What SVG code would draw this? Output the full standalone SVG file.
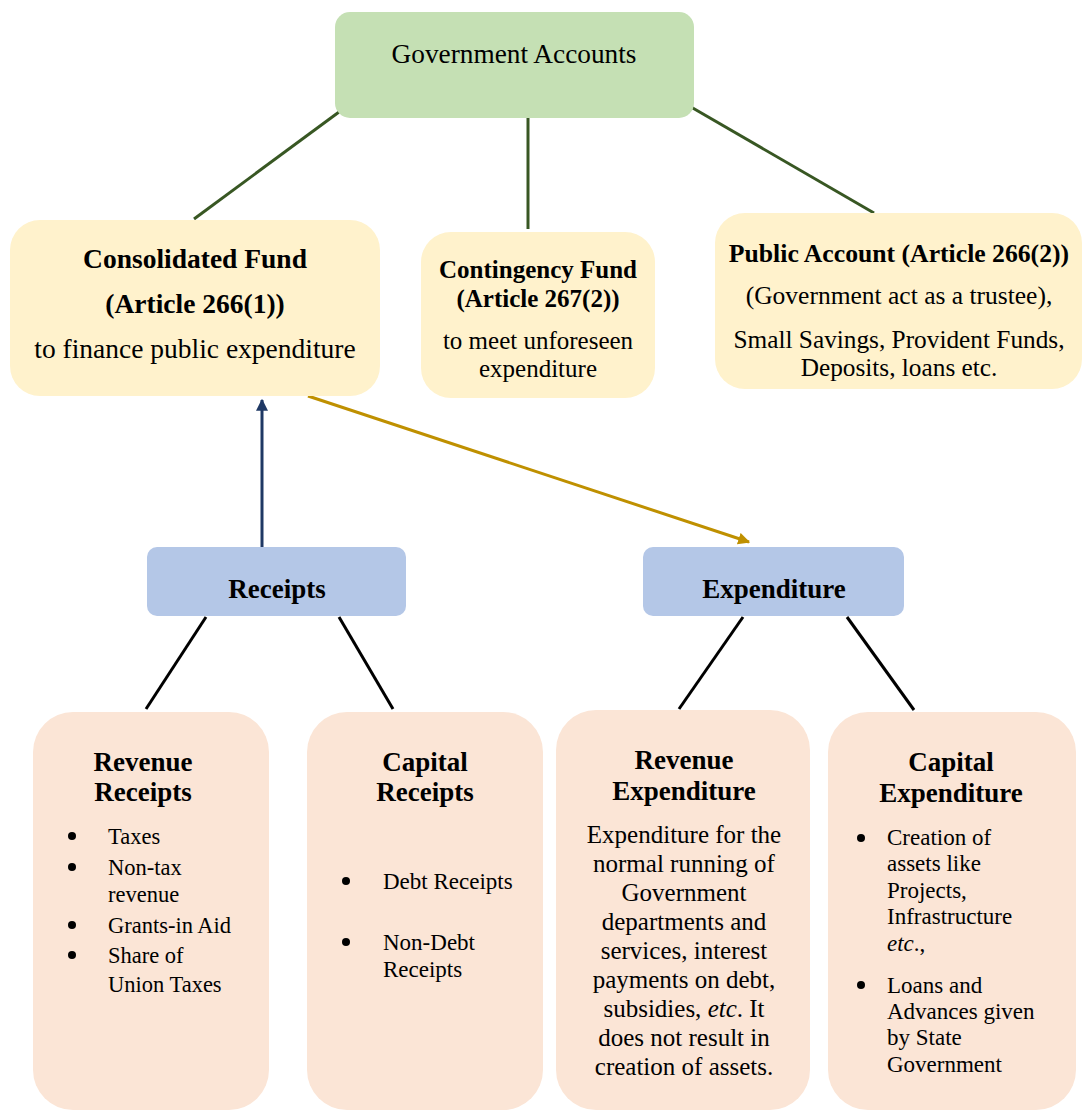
<svg xmlns="http://www.w3.org/2000/svg" width="1083" height="1111" viewBox="0 0 1083 1111">
<style>
text{font-family:"Liberation Serif","Times New Roman",serif;fill:#000}
.c{text-anchor:middle}
.b{font-weight:bold}
.top{fill:#c5e0b4}
.fund{fill:#fff2cc}
.mid{fill:#b4c7e7}
.leaf{fill:#fbe5d6}
.g{stroke:#385723;stroke-width:3;fill:none}
.k{stroke:#000;stroke-width:3;fill:none}
</style>
<defs>
<marker id="ab" viewBox="0 0 10 10" refX="9" refY="5" markerWidth="4" markerHeight="4" orient="auto"><path d="M0,0 L10,5 L0,10 z" fill="#1f3864"/></marker>
<marker id="ay" viewBox="0 0 10 10" refX="9" refY="5" markerWidth="4" markerHeight="4" orient="auto"><path d="M0,0 L10,5 L0,10 z" fill="#bf9000"/></marker>
</defs>
<rect width="1083" height="1111" fill="#fff"/>
<g id="connectors">
<line class="g" x1="339" y1="112" x2="194" y2="219"/>
<line class="g" x1="528" y1="118" x2="528" y2="229"/>
<line class="g" x1="691" y1="107" x2="874" y2="213"/>
<line x1="262" y1="547" x2="262" y2="400" stroke="#1f3864" stroke-width="3" marker-end="url(#ab)"/>
<line x1="308" y1="396" x2="749" y2="542" stroke="#bf9000" stroke-width="3" marker-end="url(#ay)"/>
<line class="k" x1="206" y1="617" x2="146" y2="709"/>
<line class="k" x1="339" y1="617" x2="393" y2="709"/>
<line class="k" x1="743" y1="617" x2="679" y2="709"/>
<line class="k" x1="847" y1="617" x2="914" y2="710"/>
</g>
<g id="government-accounts">
<rect class="top" x="335" y="12" width="359" height="106" rx="15"/>
<text class="c" x="514" y="63" font-size="27.3">Government Accounts</text>
</g>
<g id="consolidated-fund">
<rect class="fund" x="10" y="220" width="370" height="176" rx="30"/>
<text class="c b" x="195" y="268" font-size="27.5">Consolidated Fund</text>
<text class="c b" x="195" y="313" font-size="27.5">(Article 266(1))</text>
<text class="c" x="195" y="358" font-size="27.5">to finance public expenditure</text>
</g>
<g id="contingency-fund">
<rect class="fund" x="421" y="232" width="234" height="166" rx="30"/>
<text class="c b" x="538" y="278" font-size="25">Contingency Fund</text>
<text class="c b" x="538" y="307" font-size="25">(Article 267(2))</text>
<text class="c" x="538" y="349" font-size="25">to meet unforeseen</text>
<text class="c" x="538" y="377" font-size="25">expenditure</text>
</g>
<g id="public-account">
<rect class="fund" x="715" y="213" width="367" height="176" rx="30"/>
<text class="c b" x="899" y="262" font-size="25.7">Public Account (Article 266(2))</text>
<text class="c" x="899" y="304" font-size="25.5">(Government act as a trustee),</text>
<text class="c" x="899" y="348" font-size="25.3">Small Savings, Provident Funds,</text>
<text class="c" x="899" y="376" font-size="25.3">Deposits, loans etc.</text>
</g>
<g id="receipts">
<rect class="mid" x="147" y="547" width="259" height="69" rx="10"/>
<text class="c b" x="277" y="598" font-size="27">Receipts</text>
</g>
<g id="expenditure">
<rect class="mid" x="643" y="547" width="261" height="69" rx="10"/>
<text class="c b" x="774" y="598" font-size="27">Expenditure</text>
</g>
<g id="revenue-receipts">
<rect class="leaf" x="33" y="712" width="236" height="398" rx="40"/>
<text class="c b" x="143" y="771" font-size="27">Revenue</text>
<text class="c b" x="143" y="801" font-size="27">Receipts</text>
<circle cx="72" cy="836" r="4"/>
<text x="108" y="844" font-size="22.5">Taxes</text>
<circle cx="72" cy="867" r="4"/>
<text x="108" y="875" font-size="22.5">Non-tax</text>
<text x="108" y="902" font-size="22.5">revenue</text>
<circle cx="72" cy="925" r="4"/>
<text x="108" y="933" font-size="22.5">Grants-in Aid</text>
<circle cx="72" cy="955" r="4"/>
<text x="108" y="963" font-size="22.5">Share of</text>
<text x="108" y="992" font-size="22.5">Union Taxes</text>
</g>
<g id="capital-receipts">
<rect class="leaf" x="307" y="712" width="236" height="398" rx="40"/>
<text class="c b" x="425" y="771" font-size="27">Capital</text>
<text class="c b" x="425" y="801" font-size="27">Receipts</text>
<circle cx="346" cy="881" r="4"/>
<text x="383" y="889" font-size="23">Debt Receipts</text>
<circle cx="346" cy="942" r="4"/>
<text x="383" y="950" font-size="23">Non-Debt</text>
<text x="383" y="977" font-size="23">Receipts</text>
</g>
<g id="revenue-expenditure">
<rect class="leaf" x="556" y="710" width="254" height="400" rx="40"/>
<text class="c b" x="684" y="769" font-size="27">Revenue</text>
<text class="c b" x="684" y="800" font-size="27">Expenditure</text>
<text class="c" x="684" y="843" font-size="25">Expenditure for the</text>
<text class="c" x="684" y="872" font-size="25">normal running of</text>
<text class="c" x="684" y="901" font-size="25">Government</text>
<text class="c" x="684" y="930" font-size="25">departments and</text>
<text class="c" x="684" y="959" font-size="25">services, interest</text>
<text class="c" x="684" y="988" font-size="25">payments on debt,</text>
<text class="c" x="684" y="1017" font-size="25">subsidies, <tspan font-style="italic">etc</tspan>. It</text>
<text class="c" x="684" y="1046" font-size="25">does not result in</text>
<text class="c" x="684" y="1075" font-size="25">creation of assets.</text>
</g>
<g id="capital-expenditure">
<rect class="leaf" x="828" y="712" width="248" height="398" rx="40"/>
<text class="c b" x="951" y="771" font-size="27">Capital</text>
<text class="c b" x="951" y="802" font-size="27">Expenditure</text>
<circle cx="861" cy="838" r="4"/>
<text x="887" y="845" font-size="23">Creation of</text>
<text x="887" y="871" font-size="23">assets like</text>
<text x="887" y="898" font-size="23">Projects,</text>
<text x="887" y="924" font-size="23">Infrastructure</text>
<text x="887" y="951" font-size="23"><tspan font-style="italic">etc</tspan>.,</text>
<circle cx="861" cy="985" r="4"/>
<text x="887" y="993" font-size="23">Loans and</text>
<text x="887" y="1019" font-size="23">Advances given</text>
<text x="887" y="1045" font-size="23">by State</text>
<text x="887" y="1072" font-size="23">Government</text>
</g>
</svg>
